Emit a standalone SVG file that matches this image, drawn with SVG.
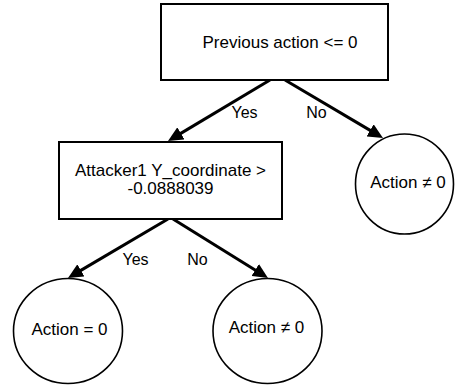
<svg xmlns="http://www.w3.org/2000/svg" width="456" height="387" viewBox="0 0 456 387">
<defs>
<style>
.box{fill:#fff;stroke:#000;stroke-width:2}
.circ{fill:#fff;stroke:#000;stroke-width:1.6}
.t{font-family:"Liberation Sans",Arial,sans-serif;font-size:17px;fill:#000;text-anchor:middle;dominant-baseline:central}
.lbl{font-family:"Liberation Sans",Arial,sans-serif;font-size:16px;fill:#000;text-anchor:middle}
.edge{fill:none;stroke:#000;stroke-width:3;marker-end:url(#arr)}
</style>
<marker id="arr" markerUnits="userSpaceOnUse" viewBox="0 0 15 14" markerWidth="15" markerHeight="14" refX="5" refY="7" orient="auto">
<path d="M0,0 L15,7 L0,14 z" fill="#000"/>
</marker>
</defs>
<rect width="456" height="387" fill="#fff"/>
<g id="connectors">
<path class="edge" d="M270,80 L176.6,135.9"/>
<path class="edge" d="M285,80 L374.4,132.9"/>
<path class="edge" d="M168,219 L76.6,272.9"/>
<path class="edge" d="M173,219 L259.5,272.7"/>
<text class="lbl" x="244.5" y="118">Yes</text>
<text class="lbl" x="316.5" y="118">No</text>
<text class="lbl" x="135.5" y="265">Yes</text>
<text class="lbl" x="197.5" y="265">No</text>
</g>
<g id="n_root">
<rect class="box" x="161" y="4" width="227" height="76"/>
<text class="t" x="280" y="42">Previous action &lt;= 0</text>
</g>
<g id="n_attacker">
<rect class="box" x="59" y="142" width="223" height="77"/>
<text class="t" x="170.5" y="170">Attacker1 Y_coordinate &gt;</text>
<text class="t" x="170.5" y="188">-0.0888039</text>
</g>
<g id="n_no_top">
<ellipse class="circ" cx="404.5" cy="184" rx="49" ry="50"/>
<text class="t" x="408" y="182">Action ≠ 0</text>
</g>
<g id="n_yes_leaf">
<ellipse class="circ" cx="68" cy="331" rx="54.5" ry="52.5"/>
<text class="t" x="69.5" y="329">Action = 0</text>
</g>
<g id="n_no_leaf">
<ellipse class="circ" cx="267.5" cy="331" rx="54.5" ry="52.5"/>
<text class="t" x="266.5" y="327">Action ≠ 0</text>
</g>
</svg>
